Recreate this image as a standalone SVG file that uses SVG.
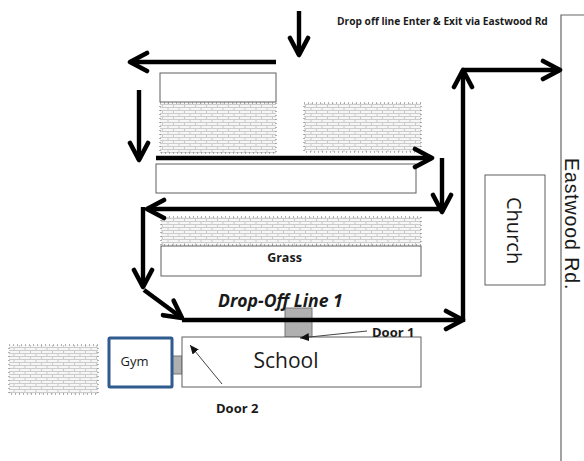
<svg xmlns="http://www.w3.org/2000/svg" width="584" height="461" viewBox="0 0 584 461">
<style>
.box{fill:#fff;stroke:#5f5f5f;stroke-width:1}
.brick{fill:url(#bricks);stroke:#666;stroke-width:1;stroke-dasharray:1 3}
.flow{fill:none;stroke:#000;stroke-width:4.4;marker-end:url(#head)}
.thin{fill:none;stroke:#444;stroke-width:1;marker-end:url(#tip)}
.door{fill:#b0b0b0;stroke:#777;stroke-width:1}
text{font-family:"Open Sans","Liberation Sans",sans-serif;fill:#1a1a1a}
.b{font-weight:700}
</style>
<defs>
<pattern id="bricks" width="11" height="6" patternUnits="userSpaceOnUse">
<rect width="11" height="6" fill="#f6f6f6"/>
<path d="M0 2.5H11M0 5.5H11M3 0V2.5M8.5 2.5V5.5" stroke="#cbcbcb" stroke-width="1" fill="none"/>
</pattern>
<marker id="head" markerWidth="24" markerHeight="28" refX="20" refY="14" orient="auto" markerUnits="userSpaceOnUse"><path d="M3 5L20 14L3 23" fill="none" stroke="#000" stroke-width="4.6" stroke-linecap="round" stroke-linejoin="round"/></marker>
<marker id="tip" markerWidth="10" markerHeight="10" refX="9" refY="4" orient="auto" markerUnits="userSpaceOnUse"><path d="M0 0L9 4L0 8z" fill="#111"/></marker>
</defs>
<rect width="584" height="461" fill="#fff"/>
<g id="road"><path d="M584 15H561V461" fill="none" stroke="#666" stroke-width="1.2"/><text transform="translate(565 158) rotate(90)" font-size="19.5" letter-spacing=".9" style="font-family:'Liberation Sans',sans-serif">Eastwood Rd.</text></g>
<g id="title"><text class="b" x="337" y="25" font-size="10.2">Drop off line Enter &amp; Exit via Eastwood Rd</text></g>
<g id="building-top"><rect class="box" x="160" y="73" width="116" height="29"/></g>
<g id="bricks-1"><rect class="brick" x="160" y="103" width="116" height="50"/></g>
<g id="bricks-2"><rect class="brick" x="304" y="103" width="117" height="49"/></g>
<g id="building-mid"><rect class="box" x="156" y="164" width="260" height="29"/></g>
<g id="bricks-3"><rect class="brick" x="161" y="217" width="260" height="28"/></g>
<g id="grass"><rect class="box" x="161" y="246" width="260" height="30"/><text class="b" x="284.5" y="262" font-size="12.5" text-anchor="middle">Grass</text></g>
<g id="bricks-4"><rect class="brick" x="9" y="345" width="89" height="49"/></g>
<g id="church"><rect class="box" x="485" y="175" width="60" height="110"/><text transform="translate(507 197) rotate(90)" font-size="20">Church</text></g>
<g id="door-1"><rect class="door" x="285" y="308" width="27" height="29"/></g>
<g id="link"><rect class="door" x="172" y="356" width="10" height="18"/></g>
<g id="school"><rect class="box" x="182" y="337" width="239" height="50"/><text x="286" y="368" font-size="21" text-anchor="middle">School</text></g>
<g id="gym"><rect x="109" y="338" width="63" height="49" fill="#fff" stroke="#2f5b8e" stroke-width="3" rx="1"/><text x="134.5" y="366" font-size="13" text-anchor="middle">Gym</text></g>
<g id="labels">
<text class="b" x="218" y="307" font-size="17.6" font-style="italic">Drop-Off Line 1</text>
<text class="b" x="372" y="337" font-size="13">Door 1</text>
<text class="b" x="216" y="413" font-size="13">Door 2</text>
</g>
<g id="connectors">
<path class="flow" d="M299 11V55"/>
<path class="flow" d="M276 62H130"/>
<path class="flow" d="M139 90V160"/>
<path class="flow" d="M156 158H432"/>
<path class="flow" d="M442 158V212"/>
<path class="flow" d="M442 209H147"/>
<path class="flow" d="M143 207V287"/>
<path class="flow" d="M144 290L182 318"/>
<path class="flow" d="M182 320H463"/>
<path class="flow" d="M463 322V70"/>
<path class="flow" d="M463 70H560"/>
<path class="thin" d="M367 331L300 338"/>
<path class="thin" d="M222 384L190 345"/>
</g>
</svg>
